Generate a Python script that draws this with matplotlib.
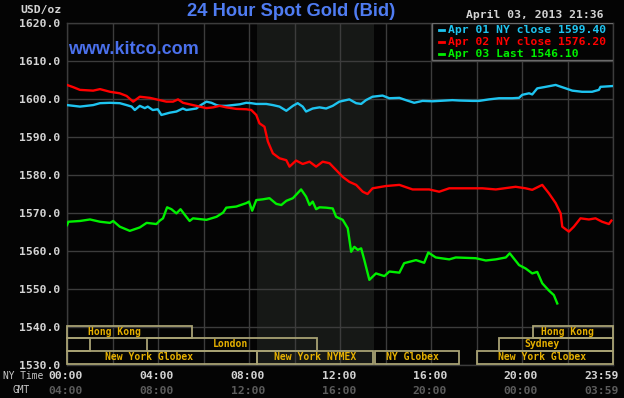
import matplotlib
matplotlib.use("Agg")
import matplotlib.pyplot as plt
from matplotlib.patches import Rectangle
from matplotlib.lines import Line2D
from matplotlib.transforms import offset_copy
import numpy as np

# ---------------- data ----------------
blue_h = [0.0, 0.57, 1.15, 1.45, 1.89, 2.32, 2.62, 2.84, 2.98, 3.20, 3.42, 3.55, 3.77, 3.99, 4.15, 4.52,
          4.81, 5.09, 5.25, 5.69, 5.83, 6.13, 6.35, 6.57, 6.71, 7.00, 7.29, 7.59, 7.88, 8.10, 8.32, 8.76,
          9.05, 9.34, 9.64, 9.93, 10.14, 10.36, 10.51, 10.80, 11.10, 11.39, 11.68, 11.97, 12.41, 12.71,
          12.93, 13.14, 13.43, 13.87, 14.17, 14.61, 14.90, 15.26, 15.63, 16.07, 16.65, 16.94, 17.24,
          17.82, 18.11, 18.55, 18.99, 19.57, 19.87, 20.01, 20.31, 20.45, 20.67, 21.04, 21.48, 21.62,
          21.92, 22.21, 22.64, 23.08, 23.38, 23.45, 23.96]
blue_v = [1598.4, 1598.0, 1598.4, 1598.9, 1599.0, 1598.9, 1598.4, 1598.0, 1597.1, 1598.2, 1597.6, 1598.0,
          1597.1, 1597.3, 1595.8, 1596.4, 1596.7, 1597.5, 1597.1, 1597.5, 1598.2, 1599.3, 1599.0, 1598.4,
          1598.2, 1598.2, 1598.4, 1598.6, 1599.0, 1598.9, 1598.7, 1598.7, 1598.4, 1598.0, 1596.9, 1598.2,
          1598.9, 1598.0, 1596.7, 1597.5, 1597.8, 1597.5, 1598.2, 1599.3, 1599.9, 1598.9, 1598.7, 1599.7,
          1600.6, 1600.9, 1600.2, 1600.3, 1599.7, 1599.0, 1599.5, 1599.4, 1599.6, 1599.7, 1599.6, 1599.5,
          1599.5, 1599.9, 1600.2, 1600.2, 1600.3, 1601.1, 1601.5, 1601.2, 1602.8, 1603.2, 1603.7, 1603.4,
          1602.8, 1602.2, 1601.9, 1601.9, 1602.4, 1603.2, 1603.4]

red_h = [0.0, 0.28, 0.57, 1.15, 1.45, 1.89, 2.32, 2.62, 2.91, 3.20, 3.64, 4.08, 4.37, 4.66, 4.88, 5.10,
         5.39, 5.83, 6.13, 6.42, 6.71, 7.00, 7.44, 7.88, 8.10, 8.32, 8.46, 8.68, 8.83, 9.05, 9.34, 9.64,
         9.78, 10.07, 10.36, 10.66, 10.95, 11.24, 11.54, 11.83, 12.12, 12.41, 12.71, 13.00, 13.21, 13.43,
         14.02, 14.61, 15.19, 15.92, 16.36, 16.80, 17.68, 18.26, 18.85, 19.72, 20.16, 20.45, 20.89, 21.18,
         21.48, 21.70, 21.77, 22.06, 22.28, 22.57, 22.94, 23.23, 23.52, 23.82, 23.93]
red_v = [1603.7, 1603.1, 1602.4, 1602.2, 1602.6, 1601.9, 1601.5, 1600.8, 1599.3, 1600.6, 1600.3, 1599.7,
         1599.3, 1599.3, 1599.9, 1599.0, 1598.6, 1598.0, 1597.6, 1597.8, 1598.2, 1597.8, 1597.4, 1597.3,
         1597.1, 1595.8, 1593.6, 1592.7, 1588.8, 1585.7, 1584.4, 1583.9, 1582.2, 1583.8, 1582.9, 1583.5,
         1582.2, 1583.5, 1583.1, 1581.3, 1579.5, 1578.2, 1577.4, 1575.6, 1575.0, 1576.5, 1577.1, 1577.4,
         1576.2, 1576.2, 1575.6, 1576.5, 1576.5, 1576.5, 1576.2, 1576.9, 1576.5, 1576.1, 1577.4, 1575.2,
         1572.6, 1569.9, 1566.4, 1565.1, 1566.4, 1568.6, 1568.3, 1568.6, 1567.7, 1567.1, 1568.0]

green_h = [0.0, 0.06, 0.57, 1.01, 1.45, 1.89, 2.03, 2.32, 2.76, 3.20, 3.50, 3.93, 4.08, 4.22, 4.40, 4.59,
           4.81, 4.99, 5.18, 5.39, 5.54, 5.83, 6.13, 6.57, 6.86, 7.00, 7.44, 7.88, 8.00, 8.14, 8.32, 8.61,
           8.90, 9.20, 9.42, 9.64, 9.93, 10.29, 10.51, 10.66, 10.80, 10.95, 11.10, 11.39, 11.68, 11.83,
           12.12, 12.34, 12.49, 12.63, 12.78, 12.93, 13.07, 13.29, 13.58, 13.95, 14.17, 14.61, 14.82,
           15.34, 15.70, 15.88, 16.21, 16.80, 17.09, 17.97, 18.41, 18.85, 19.29, 19.46, 19.87, 20.16,
           20.45, 20.67, 20.89, 21.18, 21.40, 21.55]
green_v = [1566.8, 1567.7, 1567.9, 1568.3, 1567.7, 1567.4, 1567.9, 1566.4, 1565.3, 1566.2, 1567.4, 1567.1,
           1568.0, 1568.6, 1571.5, 1571.0, 1569.9, 1571.0, 1569.5, 1567.9, 1568.6, 1568.4, 1568.2, 1569.0,
           1570.1, 1571.4, 1571.7, 1572.6, 1573.0, 1570.6, 1573.4, 1573.6, 1573.9, 1572.4, 1572.1, 1573.2,
           1573.9, 1576.2, 1574.3, 1572.1, 1573.0, 1571.0, 1571.5, 1571.4, 1571.2, 1569.0, 1568.2, 1566.0,
           1559.8, 1561.1, 1560.3, 1560.7, 1557.6, 1552.4, 1554.1, 1553.4, 1554.6, 1554.3, 1556.8, 1557.6,
           1556.9, 1559.6, 1558.3, 1557.8, 1558.3, 1558.1, 1557.5, 1557.8, 1558.3, 1559.4, 1556.3, 1555.4,
           1554.1, 1554.5, 1551.5, 1549.6, 1548.4, 1546.2]

legend_labels = ["Apr 01 NY close 1599.40", "Apr 02 NY close 1576.20", "Apr 03 Last 1546.10"]
series_colors = ["#1ec4f0", "#ff0000", "#00f000"]

y_ticks = [1530, 1540, 1550, 1560, 1570, 1580, 1590, 1600, 1610, 1620]
ny_hours = [0, 4, 8, 12, 16, 20, 24]
ny_labels = ["00:00", "04:00", "08:00", "12:00", "16:00", "20:00", "23:59"]
gmt_labels = ["04:00", "08:00", "12:00", "16:00", "20:00", "00:00", "03:59"]

nymex_span = (8.33, 13.5)

# sessions: (row, start, end, label, label_x)
sessions = [
    (0, 0.0, 5.5, "Hong Kong", 2.1),
    (0, 20.5, 24.0, "Hong Kong", 22.0),
    (1, 0.0, 1.0, "", 0.5),
    (1, 3.5, 11.0, "London", 7.2),
    (1, 19.0, 24.0, "Sydney", 20.9),
    (2, 0.0, 8.33, "New York Globex", 3.6),
    (2, 8.33, 13.45, "New York NYMEX", 10.9),
    (2, 13.55, 17.25, "NY Globex", 15.2),
    (2, 18.0, 24.0, "New York Globex", 20.9),
]
row_bounds = [(1537.1, 1540.3), (1533.7, 1537.1), (1530.3, 1533.7)]

# ---------------- figure ----------------
W, H = 624, 398
BG = "#040404"
GRID = "#3c3c3c"
MONO = "DejaVu Sans Mono"

fig = plt.figure(figsize=(W / 100, H / 100), dpi=100, facecolor=BG)
ax = fig.add_axes([67 / W, 1 - 365 / H, (613 - 67) / W, (365 - 23) / H], facecolor=BG)
ax.set_xlim(0, 24)
ax.set_ylim(1530, 1620)

ax.axvspan(*nymex_span, color="#161816", zorder=0, lw=0)

ax.set_xticks(np.arange(0, 25, 2))
ax.set_yticks(y_ticks)
ax.set_yticklabels([f"{v:.1f}" for v in y_ticks], fontfamily=MONO, fontweight="bold",
                   fontsize=8.2, color="#d4d4d4")
ax.set_xticklabels([])
ax.tick_params(length=0, pad=5)
ax.grid(True, color=GRID, lw=1.0, zorder=1)
ax.set_axisbelow(True)
for s in ax.spines.values():
    s.set_color(GRID)
    s.set_linewidth(1.0)

for hh, vv, c in [(blue_h, blue_v, series_colors[0]), (red_h, red_v, series_colors[1]),
                  (green_h, green_v, series_colors[2])]:
    ax.plot(hh, vv, color=c, lw=1.7, zorder=3)

# sessions
for row, s0, s1, lab, lx in sessions:
    y0, y1 = row_bounds[row]
    ax.add_patch(Rectangle((s0, y0), s1 - s0, y1 - y0, fill=False, edgecolor="#a8a274",
                           lw=1.3, zorder=4, clip_on=False))
    if lab:
        ax.text(lx, (y0 + y1) / 2, lab, ha="center", va="center", fontfamily=MONO,
                fontweight="bold", fontsize=7, color="#e6b000", zorder=5)

# legend box
lx0 = (432 - 67) / 546
ly0 = (365 - 60) / 342
ax.add_patch(Rectangle((lx0, ly0), 1 - lx0, 1 - ly0, transform=ax.transAxes, facecolor=BG,
                       edgecolor="#6a6a6a", lw=1.0, zorder=6))
for i, (lab, c) in enumerate(zip(legend_labels, series_colors)):
    yy = (365 - (30 + 12 * i)) / 342
    ax.add_line(Line2D([(439 - 67) / 546, (444 - 67) / 546], [yy, yy], transform=ax.transAxes,
                       color=c, lw=2, zorder=7))
    ax.text((448 - 67) / 546, yy, lab, transform=ax.transAxes, ha="left", va="center",
            fontfamily=MONO, fontweight="bold", fontsize=8.2, color=c, zorder=7)

# x labels
xt = ax.get_xaxis_transform()
for h, a, b in zip(ny_hours, ny_labels, gmt_labels):
    dx = -11 if h == 24 else -1
    tr = offset_copy(xt, fig=fig, x=dx, y=0, units="dots")
    ax.text(h, -0.032, a, transform=tr, ha="center", va="center",
            fontfamily=MONO, fontweight="bold", fontsize=8.2, color="#d4d4d4", clip_on=False)
    ax.text(h, -0.076, b, transform=tr, ha="center", va="center",
            fontfamily=MONO, fontweight="bold", fontsize=8.2, color="#5c5c5c", clip_on=False)

fig.text(3 / W, 1 - 376 / H, "NY Time", ha="left", va="center", fontfamily=MONO,
         fontsize=6.9, color="#c8c8c8")
fig.text(21 / W, 1 - 390 / H, "GMT", ha="center", va="center", fontfamily=MONO,
         fontsize=6.9, color="#c8c8c8")

fig.text(62 / W, 1 - 10 / H, "USD/oz", ha="right", va="center", fontfamily=MONO,
         fontweight="bold", fontsize=8.2, color="#d4d4d4")
fig.text(603 / W, 1 - 15 / H, "April 03, 2013 21:36", ha="right", va="center", fontfamily=MONO,
         fontweight="bold", fontsize=8.2, color="#d4d4d4")

fig.text(291.5 / W, 1 - 11 / H, "24 Hour Spot Gold (Bid)", ha="center", va="center",
         fontfamily="Liberation Sans", fontweight="bold", fontsize=13.2, color="#4f7cf2")
fig.text(68 / W, 1 - 49 / H, "www.kitco.com", ha="left", va="center",
         fontfamily="Liberation Sans", fontweight="bold", fontsize=13, color="#4a70ec", zorder=8)

fig.savefig("out.png", dpi=100, facecolor=BG)
